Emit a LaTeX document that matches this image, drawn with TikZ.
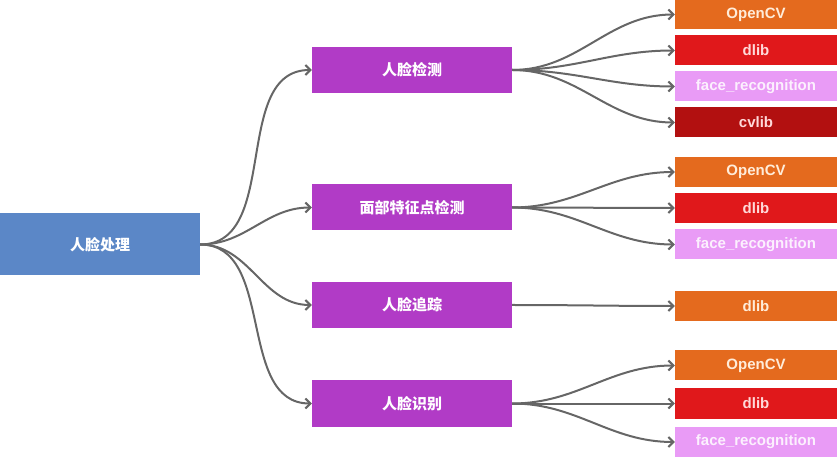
\documentclass[tikz,border=0pt]{standalone}
\usepackage{fontspec}
\setmainfont{Liberation Sans}
\newfontfamily\cjk{Noto Sans CJK SC}
\usepackage{tikz}
\usetikzlibrary{arrows.meta,positioning}
\definecolor{fpblue}   {HTML}{5B87C7}
\definecolor{fppurple} {HTML}{B13BC6}
\definecolor{fporange} {HTML}{E46A1E}
\definecolor{fpred}    {HTML}{E0181B}
\definecolor{fppink}   {HTML}{E99BF6}
\definecolor{fpdark}   {HTML}{B21010}
\definecolor{fpgrey}   {HTML}{666666}
\tikzset{
  fpnode/.style={draw=none, inner sep=0pt, font=\bfseries\fontsize{15}{17}\selectfont},
  fproot/.style={fpnode, fill=fpblue, text=white, minimum width=200pt, minimum height=62pt,
                 font=\cjk\bfseries\fontsize{15}{17}\selectfont},
  fptask/.style={fpnode, fill=fppurple, text=white, minimum width=200pt, minimum height=46pt,
                 font=\cjk\bfseries\fontsize{15}{17}\selectfont},
  fpleaf/.style={fpnode, minimum width=162pt, minimum height=30pt},
  fpcv/.style={fpleaf, fill=fporange, text=orange!15},
  fpdlib/.style={fpleaf, fill=fpred, text=red!15},
  fpfr/.style={fpleaf, fill=fppink, text=white!85!fppink},
  fpcvlib/.style={fpleaf, fill=fpdark, text=red!15},
  fpedge/.style={-{Straight Barb[length=5pt,width=10pt]}, draw=fpgrey, line width=2pt},
}

\begin{document}
\begin{tikzpicture}[x=1pt,y=-1pt]
  \useasboundingbox (0,0) rectangle (839,457);
  % root and tasks
  \node[fproot] (root) at (100,244.5) {人脸处理};
  \node[fptask] (det) at (412,70)    {人脸检测};
  \node[fptask] (lmk) at (412,207.5) {面部特征点检测};
  \node[fptask] (trk) at (412,305)   {人脸追踪};
  \node[fptask] (rec) at (412,403.5) {人脸识别};
  \foreach \t in {det,lmk,trk,rec}
    \draw[fpedge] (root.east) to[out=0,in=180] (\t.west);
  % libraries
  \node[fpcv]    (det1) at (756,14.5)  {OpenCV};
  \node[fpdlib]  (det2) at (756,50.5)  {dlib};
  \node[fpfr]    (det3) at (756,86.5)  {face\_recognition};
  \node[fpcvlib] (det4) at (756,122.5) {cvlib};
  \node[fpcv]    (lmk1) at (756,172)   {OpenCV};
  \node[fpdlib]  (lmk2) at (756,208)   {dlib};
  \node[fpfr]    (lmk3) at (756,244.5) {face\_recognition};
  \node[fpcv]    (trk1) at (756,306)   {dlib};
  \node[fpcv]    (rec1) at (756,365.5) {OpenCV};
  \node[fpdlib]  (rec2) at (756,403.5) {dlib};
  \node[fpfr]    (rec3) at (756,442)   {face\_recognition};
  \foreach \s/\l in {det/det1,det/det2,det/det3,det/det4,lmk/lmk1,lmk/lmk2,lmk/lmk3,
                     trk/trk1,rec/rec1,rec/rec2,rec/rec3}
    \draw[fpedge] (\s.east) to[out=0,in=180] (\l.west);
\end{tikzpicture}
\end{document}
